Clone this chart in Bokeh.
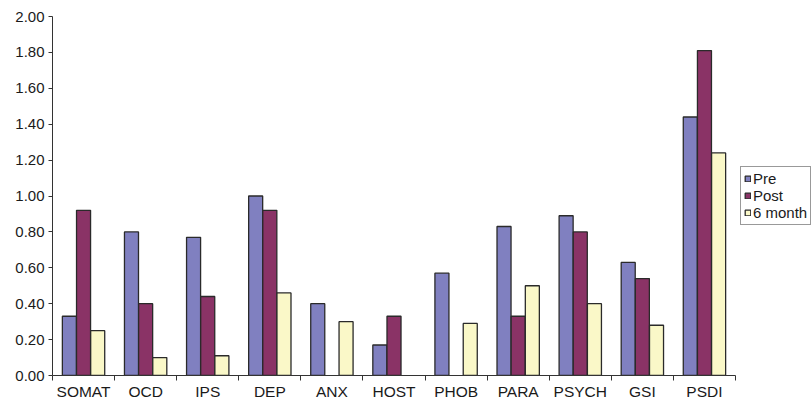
from bokeh.plotting import figure
from bokeh.models import ColumnDataSource, FixedTicker, NumeralTickFormatter, Legend, LegendItem, Range1d
from bokeh.embed import file_html
from bokeh.resources import INLINE

categories = ["SOMAT", "OCD", "IPS", "DEP", "ANX", "HOST", "PHOB", "PARA", "PSYCH", "GSI", "PSDI"]
pre = [0.33, 0.80, 0.77, 1.00, 0.40, 0.17, 0.57, 0.83, 0.89, 0.63, 1.44]
post = [0.92, 0.40, 0.44, 0.92, None, 0.33, None, 0.33, 0.80, 0.54, 1.81]
six_month = [0.25, 0.10, 0.11, 0.46, 0.30, None, 0.29, 0.50, 0.40, 0.28, 1.24]
series_names = ["Pre", "Post", "6 month"]
colors = ["#8080C0", "#8A3366", "#FAF8C8"]
y_ticks = [0.0, 0.2, 0.4, 0.6, 0.8, 1.0, 1.2, 1.4, 1.6, 1.8, 2.0]

FONT = "Liberation Sans"
n = len(categories)
x_max = n * (812 - 52) / (735 - 52)

p = figure(width=812, height=402, output_backend="svg", toolbar_location=None,
           x_range=Range1d(0, x_max), y_range=Range1d(0, 2.0),
           min_border_left=52, min_border_top=16, min_border_right=0, min_border_bottom=26)
p.outline_line_color = None
p.xgrid.visible = False
p.ygrid.visible = False
p.background_fill_color = "white"
p.border_fill_color = "white"

offsets = [-0.228, 0.0, 0.228]
bar_w = 0.226
renderers = []
for vals, off, col in zip([pre, post, six_month], offsets, colors):
    xs, tops = [], []
    for i, v in enumerate(vals):
        if v is not None:
            xs.append(i + 0.5 + off)
            tops.append(v)
    src = ColumnDataSource(dict(x=xs, top=tops))
    r = p.vbar(x="x", top="top", bottom=0, width=bar_w, source=src,
               fill_color=col, line_color="#2a2a2a", line_width=1.3)
    renderers.append(r)

# x axis: labels at centres, ticks at boundaries
xa = p.xaxis[0]
xa.bounds = (0, n)
xa.ticker = FixedTicker(ticks=[i + 0.5 for i in range(n)],
                        minor_ticks=list(range(n + 1)))
xa.major_label_overrides = {i + 0.5: c for i, c in enumerate(categories)}
xa.major_tick_out = 0
xa.major_tick_in = 0
xa.minor_tick_out = 5
xa.minor_tick_in = 0
xa.minor_tick_line_color = "#333333"
xa.axis_line_color = "#333333"
xa.major_label_text_font = FONT
xa.major_label_text_font_size = "15.5px"
xa.major_label_text_color = "#1a1a1a"
xa.major_label_standoff = 2

ya = p.yaxis[0]
ya.ticker = FixedTicker(ticks=y_ticks)
ya.formatter = NumeralTickFormatter(format="0.00")
ya.major_tick_out = 4
ya.major_tick_in = 0
ya.minor_tick_out = 0
ya.minor_tick_in = 0
ya.major_tick_line_color = "#333333"
ya.axis_line_color = "#333333"
ya.major_label_text_font = FONT
ya.major_label_text_font_size = "15px"
ya.major_label_text_color = "#1a1a1a"
ya.major_label_standoff = 4

legend = Legend(items=[LegendItem(label=s, renderers=[r]) for s, r in zip(series_names, renderers)],
                location=(688, 150), orientation="vertical",
                glyph_width=7, glyph_height=7, label_standoff=2, spacing=0,
                padding=3, margin=0, label_height=16,
                label_text_font=FONT, label_text_font_size="15px", label_text_color="#1a1a1a",
                border_line_color="#333333", border_line_width=1,
                background_fill_color="white", background_fill_alpha=1)
p.add_layout(legend, "center")

open("out.html", "w").write(file_html(p, INLINE))
